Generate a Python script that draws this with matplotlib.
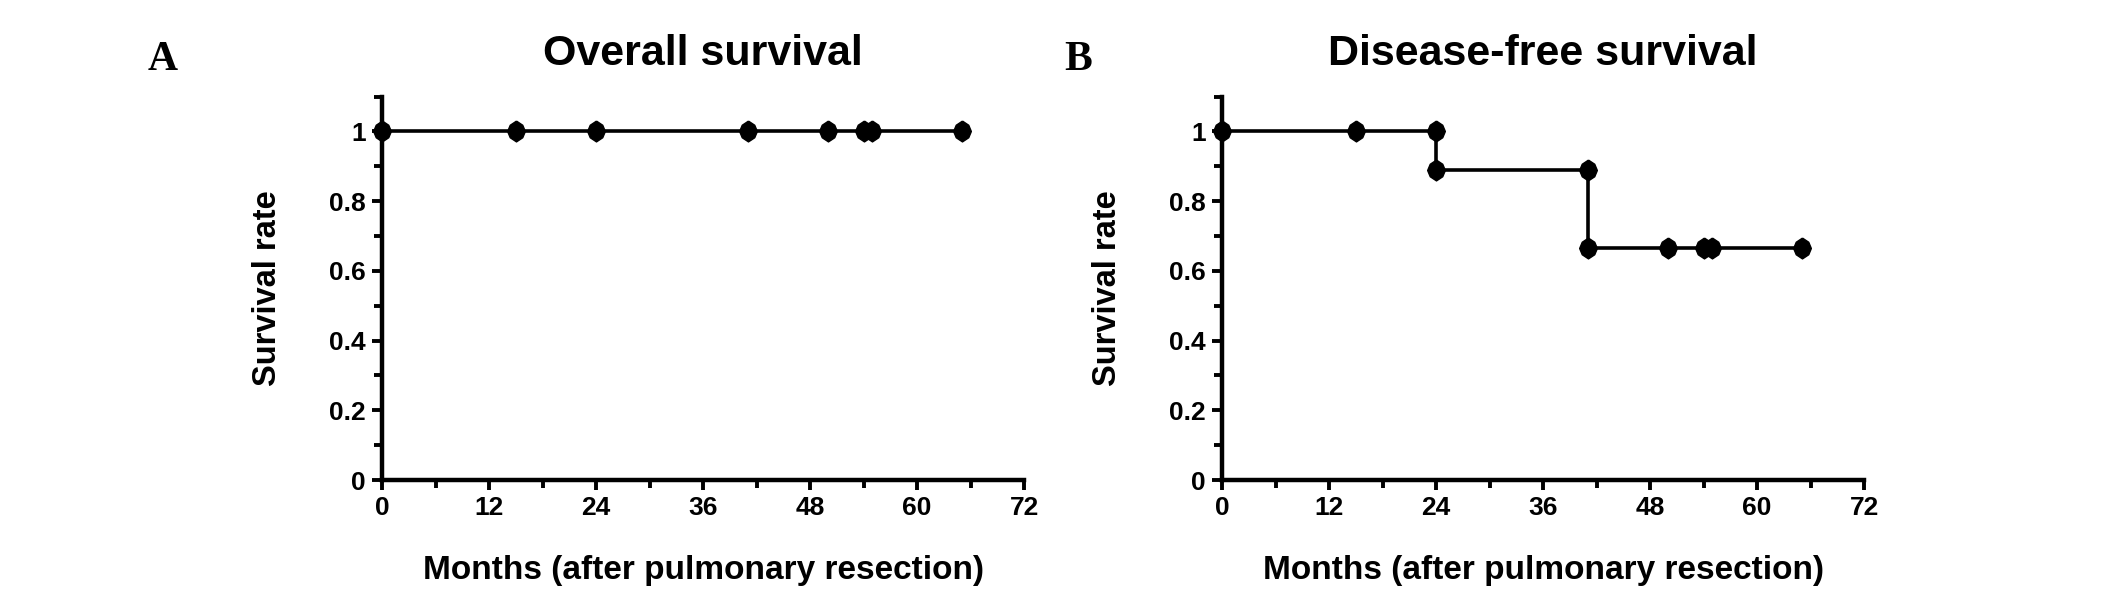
import matplotlib.pyplot as plt
from matplotlib.ticker import MultipleLocator

# Survival data
os_months = [0, 15, 24, 41, 50, 54, 55, 65]
os_rate = [1, 1, 1, 1, 1, 1, 1, 1]

dfs_months = [0, 15, 24, 24, 41, 41, 50, 54, 55, 65]
dfs_rate = [1, 1, 1, 0.889, 0.889, 0.667, 0.667, 0.667, 0.667, 0.667]

x_ticks = [0, 12, 24, 36, 48, 60, 72]
y_ticks = [0, 0.2, 0.4, 0.6, 0.8, 1]
y_labels = ['0', '0.2', '0.4', '0.6', '0.8', '1']

panels = [
    ('A', 'Overall survival', os_months, os_rate),
    ('B', 'Disease-free survival', dfs_months, dfs_rate),
]

plt.rcParams['font.family'] = ['Liberation Sans', 'DejaVu Sans']
plt.rcParams['font.weight'] = 'bold'

# rounded diamond marker
dot = [(0, 1), (0.6, 0.6), (0.85, 0), (0.6, -0.6), (0, -1),
       (-0.6, -0.6), (-0.85, 0), (-0.6, 0.6), (0, 1)]

fig = plt.figure(figsize=(21.26, 6), dpi=100)
lefts = [0.1797, 0.5748]
letter_x = [0.0696, 0.5005]

for left, lx, (letter, title, x, y) in zip(lefts, letter_x, panels):
    ax = fig.add_axes([left, 0.2, 0.302, 0.639])
    ax.plot(x, y, color='black', lw=2.6, marker=dot, markersize=15,
            clip_on=False, zorder=5)
    ax.set_xlim(0, 72)
    ax.set_ylim(0, 1.1)
    ax.set_xticks(x_ticks)
    ax.xaxis.set_minor_locator(MultipleLocator(6))
    ax.set_yticks(y_ticks)
    ax.set_yticklabels(y_labels)
    ax.yaxis.set_minor_locator(MultipleLocator(0.1))
    for side in ['top', 'right']:
        ax.spines[side].set_visible(False)
    for side in ['left', 'bottom']:
        ax.spines[side].set_linewidth(3.2)
    ax.tick_params(which='both', direction='out', width=2.8, labelsize=19,
                   pad=4)
    ax.tick_params(which='major', length=7.5)
    ax.tick_params(which='minor', length=6)
    ax.set_xlabel('Months (after pulmonary resection)', fontsize=24,
                  fontweight='bold', labelpad=25)
    ax.set_ylabel('Survival rate', fontsize=23.5, fontweight='bold',
                  labelpad=33)
    ax.set_title(title, fontsize=31, fontweight='bold', pad=23)
    fig.text(lx, 0.9, letter, fontsize=30, fontweight='bold',
             family='Liberation Serif', ha='left', va='center')

fig.savefig('out.png', dpi=100)
